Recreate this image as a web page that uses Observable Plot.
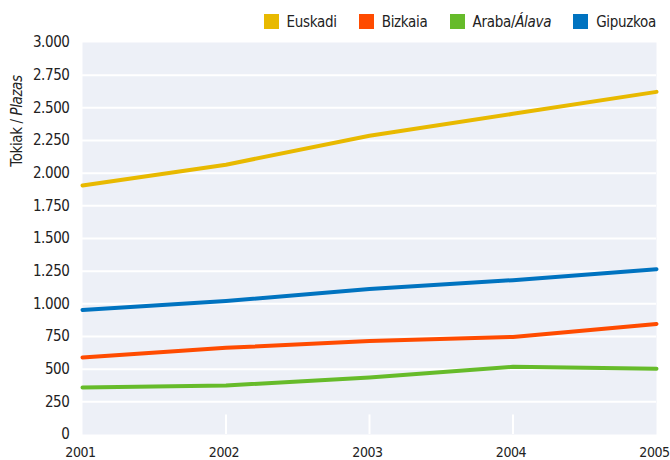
<!DOCTYPE html>
<html>
<head>
<meta charset="utf-8">
<script src="https://cdn.jsdelivr.net/npm/d3@7"></script>
<script src="https://cdn.jsdelivr.net/npm/@observablehq/plot@0.6"></script>
<style>
  body { margin: 0; background: #fff; font-family: "DejaVu Sans Condensed", "DejaVu Sans", sans-serif; font-stretch: condensed; }
  #legend { height: 34px; display: flex; justify-content: flex-end; align-items: center; padding-right: 14px; box-sizing: border-box; font-size: 15px; letter-spacing: -0.3px; color: #222; padding-top: 9px; }
  .item { display: flex; align-items: center; margin-left: 22px; }
  .sw { width: 15px; height: 15px; margin-right: 8px; }
</style>
</head>
<body>
<div id="legend"></div>
<div id="chart"></div>
<script>
const years = [2001, 2002, 2003, 2004, 2005];
const seriesNames = ["Euskadi", "Bizkaia", "Araba/Álava", "Gipuzkoa"];
const colors = ["#e8b900", "#ff4b00", "#66bb2a", "#0073c0"];
const euskadi = [1905, 2065, 2287, 2454, 2622];
const bizkaia = [590, 663, 716, 747, 846];
const araba = [360, 375, 436, 518, 503];
const gipuzkoa = [953, 1021, 1113, 1181, 1265];
const yTicks = d3.range(0, 3001, 250);

const seriesValues = [euskadi, bizkaia, araba, gipuzkoa];
const data = [];
seriesNames.forEach((s, i) => years.forEach((y, j) => data.push({series: s, year: y, value: seriesValues[i][j]})));

// legend
const leg = document.getElementById("legend");
seriesNames.forEach((s, i) => {
  const it = document.createElement("div");
  it.className = "item";
  const sw = document.createElement("div");
  sw.className = "sw";
  sw.style.background = colors[i];
  const lb = document.createElement("span");
  if (s === "Araba/Álava") { lb.innerHTML = "Araba/<i>Álava</i>"; } else { lb.textContent = s; }
  it.appendChild(sw); it.appendChild(lb);
  leg.appendChild(it);
});

const fmt = d => d3.format(",")(d).replace(/,/g, ".");

const chart = Plot.plot({
  width: 670,
  height: 426,
  marginTop: 8,
  marginBottom: 26,
  marginLeft: 82,
  marginRight: 14,
  style: {fontFamily: "'DejaVu Sans Condensed', 'DejaVu Sans', sans-serif", fontSize: "14px", color: "#222", letterSpacing: "-0.4px"},
  x: {domain: [2001, 2005], ticks: years, tickFormat: d => String(d), tickSize: 0, tickPadding: 8, label: null},
  y: {domain: [0, 3000], ticks: yTicks, tickFormat: fmt, tickSize: 0, tickPadding: 13, label: null},
  color: {domain: seriesNames, range: colors},
  marks: [
    Plot.frame({fill: "#edf0f7", stroke: null}),
    Plot.gridY(yTicks.filter(d => d > 0 && d < 3000), {stroke: "#fff", strokeOpacity: 1, strokeWidth: 2}),
    Plot.ruleX(years.slice(1, 4), {y1: 0, y2: 150, stroke: "#fff", strokeWidth: 2}),
    Plot.line(data, {x: "year", y: "value", z: "series", stroke: "series", strokeWidth: 4, curve: "linear"}),
    Plot.axisX({ticks: years, tickFormat: d => String(d), tickSize: 0, tickPadding: 13, textAnchor: "middle", fontSize: 14, dx: -2}),
    Plot.axisY({ticks: yTicks, tickFormat: fmt, tickSize: 0, tickPadding: 13, fontSize: 15})
  ]
});
document.getElementById("chart").appendChild(chart);

// y-axis title with italic part
const svg = d3.select(chart);
const t = svg.append("text")
  .attr("transform", "translate(22,87) rotate(-90)")
  .attr("text-anchor", "middle")
  .attr("fill", "#222")
  .style("font-size", "15px");
t.append("tspan").text("Tokiak / ");
t.append("tspan").attr("font-style", "italic").text("Plazas");
</script>
</body>
</html>
